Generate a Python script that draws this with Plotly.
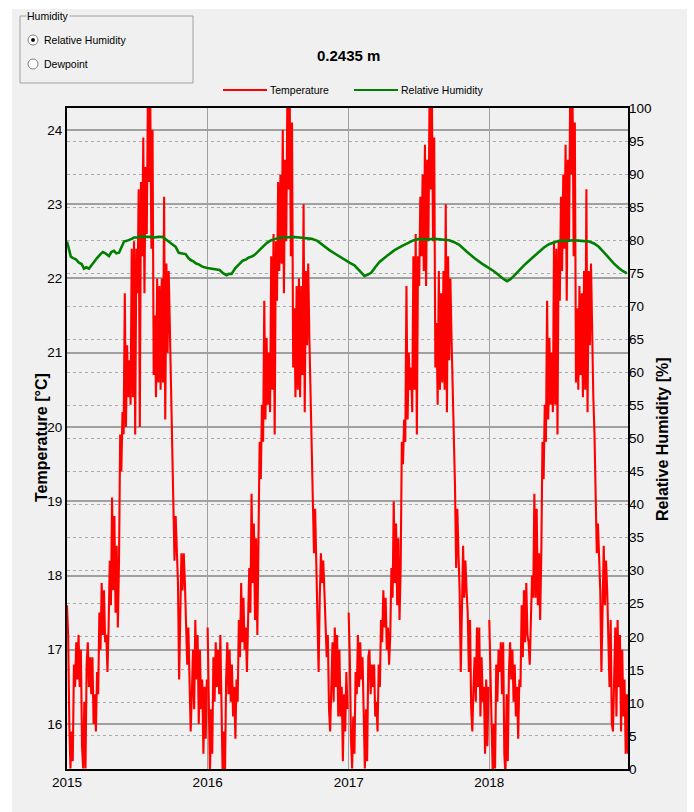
import pandas as pd
import plotly.graph_objects as go

# ---------------- data ----------------
years = [2015, 2016, 2017, 2018]

# temperature [°C], one value every 3 days from 1 Jan of each year
temp_2015 = [
    17.6, 17.2, 16.0, 15.4, 15.9, 15.5, 16.8, 16.5, 17.1, 16.6,
    17.2, 16.5, 17.0, 15.7, 15.4, 16.3, 15.4, 16.8, 17.1, 16.5,
    16.9, 16.4, 16.9, 16.0, 16.4, 15.9, 16.7, 16.4, 17.5, 17.0,
    17.9, 17.2, 17.8, 17.1, 17.2, 16.7, 17.3, 18.2, 17.6, 19.05,
    17.8, 18.8, 17.5, 18.4, 17.3, 18.2, 19.9, 19.4, 20.2, 19.9,
    21.8, 20.0, 21.1, 20.4, 20.9, 20.3, 22.4, 20.4, 22.5, 19.9,
    22.4, 21.8, 23.2, 20.0, 23.3, 22.3, 23.9, 21.8, 23.5, 22.6,
    24.5, 23.3, 24.5, 22.4, 24.0, 20.7, 21.5, 20.4, 22.0, 20.6,
    21.9, 20.5, 22.0, 20.6, 23.1, 20.1, 22.2, 21.0, 22.1, 21.3,
    20.5, 19.8, 19.1, 18.2, 18.8, 18.2, 17.9, 16.6, 17.6, 18.3,
    17.8, 18.3, 17.9, 17.4, 16.8, 17.3, 16.3, 15.9, 16.4, 17.0,
    16.2, 17.4, 16.6, 17.2, 16.0, 17.0, 16.2, 16.6, 15.6, 16.5,
    15.8, 16.6,
]
temp_2016 = [
    17.3, 16.4, 15.3, 16.2, 15.6, 16.9, 16.3, 17.1, 16.5, 17.0,
    16.4, 17.2, 16.2, 15.3, 15.9, 15.3, 16.6, 17.1, 16.4, 17.0,
    16.3, 16.8, 16.1, 16.5, 15.8, 16.6, 16.3, 17.4, 16.9, 17.9,
    17.1, 17.7, 17.0, 17.3, 16.7, 17.4, 18.1, 17.5, 19.1, 17.9,
    18.7, 17.4, 18.5, 17.2, 18.3, 19.8, 19.3, 20.3, 19.8, 21.7,
    20.1, 21.2, 20.3, 21.0, 20.2, 22.3, 20.5, 22.6, 19.9, 22.5,
    21.7, 23.3, 22.1, 23.4, 22.2, 24.0, 21.8, 23.6, 22.5, 24.5,
    23.2, 24.5, 22.3, 24.1, 20.8, 21.6, 20.4, 21.9, 20.5, 22.0,
    20.4, 21.9, 20.7, 23.0, 20.2, 22.1, 21.1, 22.2, 21.2, 20.4,
    19.9, 19.0, 18.3, 18.9, 18.1, 17.8, 16.7, 17.7, 18.3, 17.9,
    18.2, 17.8, 17.3, 16.9, 17.2, 16.2, 15.9, 16.5, 17.1, 16.3,
    17.3, 16.5, 17.2, 16.1, 17.0, 16.1, 16.5, 15.5, 16.4, 15.9,
    16.7, 16.2,
]
temp_2017 = [
    17.5, 16.9, 15.8, 15.4, 16.1, 15.6, 16.7, 16.4, 17.2, 16.5,
    17.1, 16.6, 16.9, 15.8, 15.4, 16.2, 15.5, 16.9, 17.0, 16.4,
    16.8, 16.5, 16.8, 16.1, 16.3, 15.9, 16.8, 16.5, 17.4, 17.1,
    17.8, 17.3, 17.7, 17.0, 17.3, 16.8, 17.2, 18.1, 17.7, 19.0,
    17.9, 18.7, 17.6, 18.5, 17.4, 18.1, 19.8, 19.5, 20.1, 19.8,
    21.9, 20.1, 21.0, 20.5, 20.8, 20.2, 22.3, 20.5, 22.6, 19.9,
    22.3, 21.9, 23.1, 22.3, 23.4, 22.1, 23.8, 21.9, 23.6, 22.5,
    24.5, 23.2, 24.5, 22.5, 23.9, 20.8, 21.4, 20.3, 22.1, 20.5,
    21.8, 20.6, 22.1, 20.5, 23.0, 20.2, 22.3, 20.9, 22.0, 21.2,
    20.6, 19.7, 19.2, 18.1, 18.9, 18.3, 17.8, 16.7, 17.5, 18.4,
    17.7, 18.2, 17.8, 17.5, 16.7, 17.4, 16.2, 15.9, 16.5, 16.9,
    16.3, 17.3, 16.5, 17.3, 16.1, 16.9, 16.3, 16.5, 15.6, 16.6,
    15.7, 16.5,
]
temp_2018 = [
    17.4, 16.8, 15.9, 15.3, 16.0, 15.4, 16.8, 16.3, 17.0, 16.7,
    17.1, 16.4, 17.1, 15.6, 15.3, 16.4, 15.5, 16.7, 17.1, 16.6,
    17.0, 16.3, 16.8, 16.1, 16.5, 15.8, 16.6, 16.5, 17.6, 16.9,
    17.8, 17.1, 17.9, 17.2, 17.1, 16.8, 17.4, 18.0, 17.7, 19.1,
    17.7, 18.9, 17.6, 18.3, 17.4, 18.3, 19.8, 19.3, 20.3, 19.8,
    21.7, 20.1, 21.2, 20.3, 21.0, 20.2, 22.5, 20.3, 22.4, 19.9,
    22.5, 21.7, 23.1, 22.1, 23.4, 22.4, 23.8, 21.7, 23.6, 22.5,
    24.5, 23.4, 24.5, 22.3, 24.1, 20.6, 21.6, 20.5, 21.9, 20.7,
    21.8, 20.4, 22.1, 20.5, 23.2, 20.2, 22.1, 21.1, 22.2, 21.2,
    20.4, 19.9, 19.0, 18.3, 18.7, 18.2, 17.8, 16.7, 17.6, 18.4,
    17.6, 18.2, 17.8, 17.3, 16.5, 17.4, 16.0, 15.9, 16.5, 17.3,
    16.1, 17.4, 16.5, 17.2, 15.9, 17.0, 16.1, 16.6, 15.6, 16.4,
    15.6, 16.6,
]
temps = [temp_2015, temp_2016, temp_2017, temp_2018]

# relative humidity [%]: day offset from 2015-01-01 and value
hum_day = [
    0, 5, 10, 16, 23, 31, 38, 44, 50, 57,
    63, 70, 78, 87, 93, 100, 109, 115, 122, 128,
    135, 142, 148, 155, 161, 168, 174, 182, 189, 200,
    215, 226, 238, 248, 257, 265, 273, 282, 290, 299,
    308, 315, 321, 328, 334, 343, 351, 364, 376, 386,
    396, 405, 414, 420, 427, 437, 448, 456, 465, 472,
    478, 485, 491, 500, 508, 519, 530, 541, 552, 568,
    585, 603, 621, 635, 650, 665, 681, 700, 720, 733,
    746, 759, 772, 781, 790, 800, 811, 830, 850, 869,
    888, 900, 914, 933, 953, 972, 992, 1005, 1018, 1037,
    1057, 1076, 1096, 1108, 1121, 1131, 1142, 1151, 1160, 1173,
    1186, 1205, 1225, 1238, 1251, 1264, 1277, 1296, 1316, 1335,
    1355, 1368, 1380, 1393, 1406, 1419, 1432, 1443, 1453,
]
hum_val = [
    79.8, 78.6, 77.5, 77.3, 77.1, 76.6, 76.4, 75.7, 75.9, 75.7,
    76.2, 76.7, 77.3, 77.9, 78.2, 78.0, 77.6, 78.2, 78.4, 78.0,
    78.1, 79.0, 79.8, 79.9, 80.0, 80.2, 80.4, 80.4, 80.6, 80.5,
    80.5, 80.4, 80.5, 80.5, 80.1, 79.8, 79.4, 79.0, 78.1, 78.0,
    77.9, 77.3, 77.0, 76.8, 76.5, 76.3, 76.0, 75.8, 75.7, 75.6,
    75.5, 75.0, 74.7, 74.9, 74.9, 75.8, 76.5, 76.9, 77.1, 77.4,
    77.5, 77.7, 78.0, 78.6, 79.0, 79.6, 80.0, 80.2, 80.4, 80.4,
    80.5, 80.4, 80.3, 80.2, 79.9, 79.2, 78.5, 77.8, 77.0, 76.6,
    76.2, 75.4, 74.6, 74.8, 75.1, 75.9, 76.7, 77.6, 78.5, 79.1,
    79.7, 80.0, 80.2, 80.1, 80.2, 80.1, 80.0, 79.7, 79.3, 78.3,
    77.3, 76.5, 75.8, 75.3, 74.7, 74.2, 73.8, 74.1, 74.6, 75.4,
    76.2, 77.2, 78.2, 78.9, 79.4, 79.7, 79.9, 79.9, 80.0, 79.9,
    79.8, 79.5, 79.0, 78.2, 77.3, 76.5, 75.8, 75.3, 75.0,
]

temp_ticks = [16, 17, 18, 19, 20, 21, 22, 23, 24]
hum_ticks = list(range(0, 101, 5))
year_labels = ["2015", "2016", "2017", "2018"]

# ---------------- layout helpers (pixel -> paper) ----------------
L, R, T, B = 67, 628, 108, 769
W, H = 694, 812


def px(x):
    return (x - L) / (R - L)


def py(y):
    return (B - y) / (B - T)


FONT = "Liberation Sans, Arial, DejaVu Sans"

fig = go.Figure()

for yr, vals in zip(years, temps):
    x = pd.date_range(f"{yr}-01-01", periods=len(vals), freq="3D")
    fig.add_trace(go.Scatter(x=x, y=vals, mode="lines", name="Temperature",
                             line=dict(color="#FF0000", width=2.1),
                             showlegend=False, hoverinfo="skip"))

hx = pd.Timestamp("2015-01-01") + pd.to_timedelta(hum_day, unit="D")
fig.add_trace(go.Scatter(x=hx, y=hum_val, mode="lines", name="Relative Humidity",
                         line=dict(color="#008000", width=2.6),
                         yaxis="y2", showlegend=False, hoverinfo="skip"))

fig.update_layout(
    width=W, height=H, autosize=False,
    margin=dict(l=L, r=W - R, t=T, b=H - B, pad=0),
    paper_bgcolor="#F0F0F0", plot_bgcolor="#F0F0F0",
    showlegend=False,
    font=dict(family=FONT, size=12, color="#000000"),
    xaxis=dict(
        type="date", range=["2015-01-01", "2018-12-27"],
        tickvals=[f"{y}-01-01" for y in years], ticktext=year_labels,
        showgrid=True, gridcolor="#A0A0A0", gridwidth=1,
        showline=True, linecolor="#000000", linewidth=2, mirror=True,
        ticks="", zeroline=False, tickfont=dict(family=FONT, size=13.5),
    ),
    yaxis=dict(
        range=[15.394, 24.296], tickvals=temp_ticks,
        ticktext=[str(t) for t in temp_ticks],
        showgrid=True, gridcolor="#A0A0A0", gridwidth=2,
        showline=True, linecolor="#000000", linewidth=2, mirror=True,
        ticks="", zeroline=False, tickfont=dict(family=FONT, size=13.5),
    ),
    yaxis2=dict(
        overlaying="y", side="right", range=[0, 100], tickvals=hum_ticks,
        ticktext=[str(t) for t in hum_ticks],
        showgrid=True, gridcolor="#ABABAB", gridwidth=1, griddash="dot",
        showline=False, ticks="", zeroline=False,
        tickfont=dict(family=FONT, size=13.5),
    ),
)

shapes = []
annotations = []

# white outer strips
for (x0, y0, x1, y1) in [(0, 0, W, 9), (0, 0, 12, H), (687, 0, W, H)]:
    shapes.append(dict(type="rect", xref="paper", yref="paper",
                       x0=px(x0), x1=px(x1), y0=py(y1), y1=py(y0),
                       fillcolor="#FFFFFF", line=dict(width=0), layer="above"))

# Humidity group box
shapes.append(dict(type="rect", xref="paper", yref="paper",
                   x0=px(20), x1=px(193), y0=py(83), y1=py(16),
                   line=dict(color="#A0A0A0", width=1), fillcolor="rgba(0,0,0,0)",
                   layer="above"))
annotations.append(dict(text="Humidity", xref="paper", yref="paper",
                        x=px(26), y=py(16), xanchor="left", yanchor="middle",
                        showarrow=False, bgcolor="#F0F0F0", borderpad=0,
                        font=dict(family=FONT, size=10.5, color="#000000")))
for cy, label, checked in [(40, "Relative Humidity", True), (64, "Dewpoint", False)]:
    shapes.append(dict(type="circle", xref="paper", yref="paper",
                       x0=px(28), x1=px(38), y0=py(cy + 5), y1=py(cy - 5),
                       fillcolor="#FFFFFF", line=dict(color="#808080", width=1),
                       layer="above"))
    if checked:
        shapes.append(dict(type="circle", xref="paper", yref="paper",
                           x0=px(31.3), x1=px(34.7), y0=py(cy + 1.7), y1=py(cy - 1.7),
                           fillcolor="#000000", line=dict(color="#000000", width=0.5),
                           layer="above"))
    annotations.append(dict(text=label, xref="paper", yref="paper",
                            x=px(42), y=py(cy), xanchor="left", yanchor="middle",
                            showarrow=False,
                            font=dict(family=FONT, size=10.5, color="#000000")))

# title
annotations.append(dict(text="<b>0.2435 m</b>", xref="paper", yref="paper",
                        x=px(348), y=py(55), xanchor="center", yanchor="middle",
                        showarrow=False,
                        font=dict(family=FONT, size=15, color="#000000")))

# legend
for (x0, x1, col, label) in [(223, 267, "#FF0000", "Temperature"),
                             (354, 398, "#008000", "Relative Humidity")]:
    shapes.append(dict(type="line", xref="paper", yref="paper",
                       x0=px(x0), x1=px(x1), y0=py(90), y1=py(90),
                       line=dict(color=col, width=2), layer="above"))
    annotations.append(dict(text=label, xref="paper", yref="paper",
                            x=px(x1 + 1), y=py(90), xanchor="left", yanchor="middle",
                            showarrow=False,
                            font=dict(family=FONT, size=10.5, color="#000000")))

# axis titles
annotations.append(dict(text="<b>Temperature [°C]</b>", xref="paper", yref="paper",
                        x=px(41), y=py(438), xanchor="center", yanchor="middle",
                        textangle=-90, showarrow=False,
                        font=dict(family=FONT, size=16, color="#000000")))
annotations.append(dict(text="<b>Relative Humidity [%]</b>", xref="paper", yref="paper",
                        x=px(662), y=py(439), xanchor="center", yanchor="middle",
                        textangle=-90, showarrow=False,
                        font=dict(family=FONT, size=16, color="#000000")))

fig.update_layout(shapes=shapes, annotations=annotations)

fig.write_html("out.html")
